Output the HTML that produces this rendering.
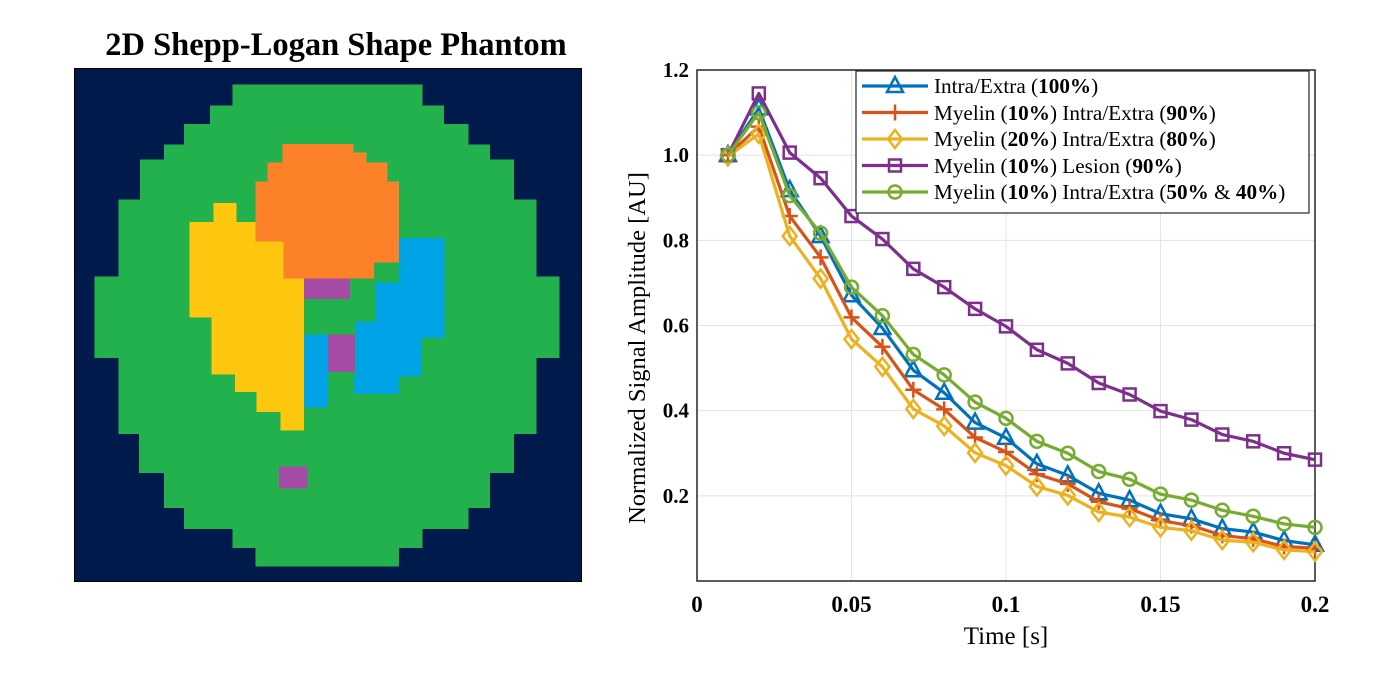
<!DOCTYPE html>
<html><head><meta charset="utf-8"><style>
body{margin:0;background:#fff;width:1386px;height:678px;overflow:hidden;position:relative;font-family:"Liberation Serif",serif}
#title{position:absolute;left:0;width:672px;top:27px;text-align:center;font-weight:bold;font-size:32.5px}
</style></head><body>
<div id="title">2D Shepp-Logan Shape Phantom</div>
<svg style="position:absolute;left:74px;top:68px" width="508" height="514" viewBox="0 0 1524 1542" preserveAspectRatio="none" shape-rendering="crispEdges">
<rect x="0" y="0" width="1524" height="1542" fill="#011a4c" stroke="#000" stroke-width="6"/>
<g fill="#23b14d">
<rect x="475" y="50" width="570" height="62"/><rect x="408" y="112" width="702" height="56"/><rect x="330" y="168" width="853" height="62"/><rect x="270" y="230" width="978" height="45"/><rect x="198" y="275" width="1122" height="120"/><rect x="133" y="395" width="1254" height="230"/><rect x="62" y="625" width="1395" height="245"/><rect x="133" y="870" width="1254" height="228"/><rect x="195" y="1098" width="1125" height="117"/><rect x="270" y="1215" width="978" height="105"/><rect x="330" y="1320" width="853" height="63"/><rect x="475" y="1383" width="570" height="57"/><rect x="545" y="1440" width="430" height="55"/>
</g>
<g fill="#fec70f">
<rect x="418" y="405" width="70" height="57"/><rect x="347" y="462" width="343" height="286"/><rect x="412" y="748" width="278" height="172"/><rect x="483" y="920" width="207" height="52"/><rect x="548" y="972" width="142" height="60"/><rect x="620" y="1032" width="70" height="56"/>
</g>
<g fill="#fd8128">
<rect x="625" y="228" width="213" height="25"/><rect x="625" y="253" width="253" height="30"/><rect x="580" y="283" width="360" height="57"/><rect x="545" y="340" width="430" height="180"/><rect x="628" y="520" width="347" height="63"/><rect x="628" y="583" width="272" height="49"/>
</g>
<g fill="#00a3e6">
<rect x="975" y="510" width="137" height="133"/><rect x="905" y="643" width="207" height="117"/><rect x="845" y="760" width="267" height="50"/><rect x="845" y="810" width="198" height="115"/><rect x="840" y="925" width="135" height="53"/><rect x="690" y="800" width="72" height="218"/>
</g>
<g fill="#a64ca6">
<rect x="690" y="632" width="138" height="61"/><rect x="762" y="800" width="81" height="112"/><rect x="615" y="1195" width="85" height="67"/>
</g>
</svg>
<svg id="chart" style="position:absolute;left:0;top:0" width="1386" height="678"></svg>
<script>
const xValues=[0.01,0.02,0.03,0.04,0.05,0.06,0.07,0.08,0.09,0.1,0.11,0.12,0.13,0.14,0.15,0.16,0.17,0.18,0.19,0.2];
const intraExtra=[1.0,1.11,0.918,0.81,0.671,0.594,0.495,0.442,0.372,0.336,0.275,0.248,0.206,0.19,0.158,0.146,0.123,0.115,0.095,0.085];
const myelin10=[1.0,1.067,0.857,0.76,0.619,0.55,0.449,0.403,0.337,0.303,0.251,0.228,0.186,0.17,0.142,0.13,0.107,0.099,0.081,0.077];
const myelin20=[0.997,1.05,0.81,0.71,0.568,0.503,0.404,0.364,0.301,0.271,0.222,0.201,0.162,0.15,0.126,0.118,0.096,0.091,0.073,0.069];
const lesion=[1.0,1.145,1.006,0.946,0.857,0.803,0.733,0.69,0.639,0.598,0.543,0.511,0.465,0.438,0.399,0.379,0.344,0.328,0.3,0.285];
const mixed=[1.0,1.10,0.905,0.817,0.69,0.623,0.532,0.484,0.42,0.382,0.328,0.3,0.257,0.239,0.204,0.19,0.166,0.152,0.134,0.126];
const xTicks=[0,0.05,0.1,0.15,0.2];
const xTickLabels=["0","0.05","0.1","0.15","0.2"];
const yTicks=[0.2,0.4,0.6,0.8,1.0,1.2];
const yTickLabels=["0.2","0.4","0.6","0.8","1.0","1.2"];
const seriesNames=["Intra/Extra (<b>100%</b>)","Myelin (<b>10%</b>) Intra/Extra (<b>90%</b>)","Myelin (<b>20%</b>) Intra/Extra (<b>80%</b>)","Myelin (<b>10%</b>) Lesion (<b>90%</b>)","Myelin (<b>10%</b>) Intra/Extra (<b>50%</b> &amp; <b>40%</b>)"];

const L=697,R=1315,T=70,B=581;
const sx=v=>L+(v-0)/(0.2-0)*(R-L);
const sy=v=>B-(v-0)/(1.2-0)*(B-T);
const NS="http://www.w3.org/2000/svg";
const svg=document.getElementById('chart');
function mk(tag,attrs,parent){const e=document.createElementNS(NS,tag);for(const k in attrs)e.setAttribute(k,attrs[k]);(parent||svg).appendChild(e);return e;}
xTicks.forEach((t,i)=>{
 if(i>0&&i<xTicks.length-1){const g=mk('line',{x1:sx(t),x2:sx(t),y1:T,y2:B,stroke:'#e3e3e3','stroke-width':1});
 
 }
 const tk=mk('text',{x:sx(t),y:612,'text-anchor':'middle','font-size':23,'font-weight':'bold','font-family':'Liberation Serif, serif'});
 tk.textContent=xTickLabels[i];
 
 
});
yTicks.forEach((t,i)=>{
 if(t<1.2){const g=mk('line',{x1:L,x2:R,y1:sy(t),y2:sy(t),stroke:'#e3e3e3','stroke-width':1});
 
 }
 const tk=mk('text',{x:689,y:sy(t)+7,'text-anchor':'end','font-size':21,'font-weight':'bold','font-family':'Liberation Serif, serif'});
 tk.textContent=yTickLabels[i];
 
 
});
const box=mk('rect',{x:L,y:T,width:R-L,height:B-T,fill:'none',stroke:'#262626','stroke-width':1.5});


const xl=mk('text',{x:(L+R)/2,y:644,'text-anchor':'middle','font-size':25,'font-family':'Liberation Serif, serif'});
xl.textContent='Time [s]';


const yl=mk('text',{x:0,y:0,'text-anchor':'middle','font-size':24.5,'font-family':'Liberation Serif, serif',transform:'translate(645,348) rotate(-90)'});
yl.textContent='Normalized  Signal Amplitude [AU]';



function marker(type,x,y,color,parent){
 const s=8;let e;
 if(type==='tri')e=mk('polygon',{points:`${x},${y-s-1} ${x-s},${y+s-2} ${x+s},${y+s-2}`,fill:'none',stroke:color,'stroke-width':2.5},parent);
 else if(type==='plus'){e=mk('path',{d:`M${x-s} ${y}H${x+s}M${x} ${y-s}V${y+s}`,stroke:color,'stroke-width':2.5},parent);}
 else if(type==='dia')e=mk('polygon',{points:`${x},${y-s-1} ${x+s-1},${y} ${x},${y+s+1} ${x-s+1},${y}`,fill:'none',stroke:color,'stroke-width':2.5},parent);
 else if(type==='sq')e=mk('rect',{x:x-6,y:y-6,width:12,height:12,fill:'none',stroke:color,'stroke-width':2.5},parent);
 else e=mk('circle',{cx:x,cy:y,r:6.5,fill:'none',stroke:color,'stroke-width':2.5},parent);
 
 
}
const series=[[intraExtra,'#0072BD','tri'],[myelin10,'#D95319','plus'],[myelin20,'#EDB120','dia'],[lesion,'#7E2F8E','sq'],[mixed,'#77AC30','circ']];
const seriesIds=['intra-extra-series','myelin-10-series','myelin-20-series','lesion-series','mixed-series'];
series.forEach((s,si)=>{
 const g=mk('g',{});
 
 
 const pts=xValues.map((x,i)=>sx(x)+','+sy(s[0][i])).join(' ');
 mk('polyline',{points:pts,fill:'none',stroke:s[1],'stroke-width':3.2,'stroke-linejoin':'round'},g);
 xValues.forEach((x,i)=>marker(s[2],sx(x),sy(s[0][i]),s[1],g));
});
const lg=mk('g',{});


mk('rect',{x:856,y:71,width:453,height:142,fill:'#fff',stroke:'#262626','stroke-width':1.2},lg);
series.forEach((s,i)=>{
 const y=86+i*26.5;
 const e=mk('g',{},lg);
 
 
 mk('line',{x1:862,x2:928,y1:y,y2:y,stroke:s[1],'stroke-width':3.2},e);
 marker(s[2],895,y,s[1],e);
 const t=mk('foreignObject',{x:934,y:y-15,width:376,height:30},e);
 t.innerHTML='<div xmlns="http://www.w3.org/1999/xhtml" style="font-family:Liberation Serif,serif;font-size:21.2px;line-height:30px;white-space:nowrap">'+seriesNames[i]+'</div>';
});
</script>
</body></html>
